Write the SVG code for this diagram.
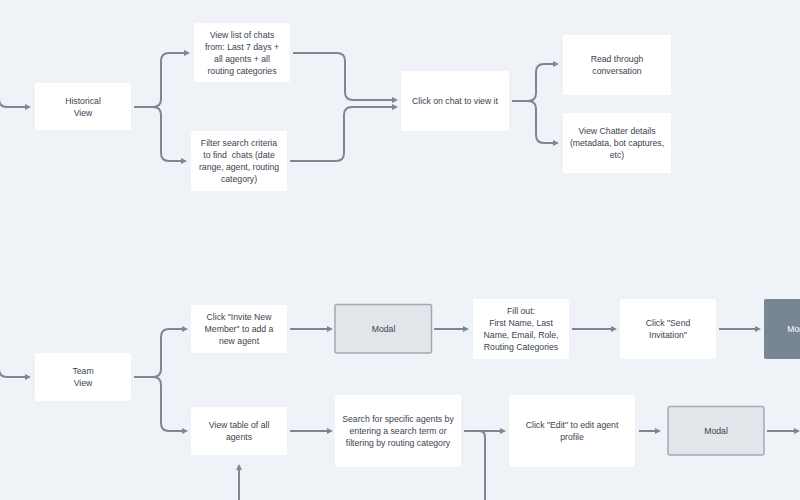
<svg xmlns="http://www.w3.org/2000/svg" width="800" height="500" viewBox="0 0 800 500">
<style>
.bg{fill:#eff2f6}
.box{fill:#ffffff}
.modal{fill:#e2e5e9;stroke:#a2abb5;stroke-width:1.5}
.dark{fill:#788592}
.t{font-family:"Liberation Sans",Arial,sans-serif;font-size:8.7px;fill:#3b4450;text-anchor:middle;white-space:pre}
.tw{fill:#ffffff}
.c{fill:none;stroke:#7b8795;stroke-width:2;marker-end:url(#ah)}
.cn{fill:none;stroke:#7b8795;stroke-width:2}
</style>
<defs>
<marker id="ah" markerUnits="userSpaceOnUse" markerWidth="6" markerHeight="6" viewBox="0 0 6 6" refX="3" refY="3" orient="auto">
<path d="M0,0 L6,3 L0,6 z" fill="#7b8795"/>
</marker>
</defs>
<rect class="bg" x="0" y="0" width="800" height="500"/>

<g id="connectors">
<path class="c" d="M-1,99 Q-1,107 7,107 H28"/>
<path class="c" d="M134,107 H153 Q161,107 161,99 V61 Q161,53 169,53 H187"/>
<path class="c" d="M153,107 Q161,107 161,115 V153 Q161,161 169,161 H184"/>
<path class="c" d="M293,53 H337 Q345,53 345,61 V92 Q345,100 353,100 H395"/>
<path class="c" d="M290,161 H336 Q344,161 344,153 V115 Q344,107 352,107 H395"/>
<path class="c" d="M512,101 H528 Q536,101 536,93 V72 Q536,64 544,64 H556"/>
<path class="c" d="M528,101 Q536,101 536,109 V135 Q536,143 544,143 H556"/>
<path class="c" d="M-1,369 Q-1,377 7,377 H28"/>
<path class="c" d="M134,377 H153 Q161,377 161,369 V337 Q161,329 169,329 H185"/>
<path class="c" d="M153,377 Q161,377 161,385 V423 Q161,431 169,431 H185"/>
<path class="c" d="M290,329 H330"/>
<path class="c" d="M434,329 H466"/>
<path class="c" d="M572,329 H614"/>
<path class="c" d="M719,329 H758"/>
<path class="c" d="M290,431 H330"/>
<path class="c" d="M464,431 H503"/>
<path class="cn" d="M485,500 V437 Q485,431 479,431"/>
<path class="c" d="M639,431 H658"/>
<path class="c" d="M767,431 H797"/>
<path class="c" d="M239,500 V467"/>
</g>

<g id="historical-view">
<rect class="box" x="35" y="83" width="96" height="47" rx="2"/>
<text class="t" x="83" y="104">Historical</text>
<text class="t" x="83" y="116">View</text>
</g>
<g id="view-list">
<rect class="box" x="194" y="23" width="96" height="59" rx="2"/>
<text class="t" x="242" y="38">View list of chats</text>
<text class="t" x="242" y="50">from: Last 7 days +</text>
<text class="t" x="242" y="62">all agents + all</text>
<text class="t" x="242" y="74">routing categories</text>
</g>
<g id="filter-search">
<rect class="box" x="191" y="131" width="96" height="60" rx="2"/>
<text class="t" x="239" y="146">Filter search criteria</text>
<text class="t" x="239" y="158">to find  chats (date</text>
<text class="t" x="239" y="170">range, agent, routing</text>
<text class="t" x="239" y="182">category)</text>
</g>
<g id="click-chat">
<rect class="box" x="401" y="71" width="108" height="60" rx="2"/>
<text class="t" x="455" y="104">Click on chat to view it</text>
</g>
<g id="read-through">
<rect class="box" x="563" y="35" width="108" height="60" rx="2"/>
<text class="t" x="617" y="62">Read through</text>
<text class="t" x="617" y="74">conversation</text>
</g>
<g id="chatter-details">
<rect class="box" x="563" y="113" width="108" height="60" rx="2"/>
<text class="t" x="617" y="134">View Chatter details</text>
<text class="t" x="617" y="146">(metadata, bot captures,</text>
<text class="t" x="617" y="158">etc)</text>
</g>

<g id="team-view">
<rect class="box" x="35" y="353" width="96" height="48" rx="2"/>
<text class="t" x="83" y="374">Team</text>
<text class="t" x="83" y="386">View</text>
</g>
<g id="invite-member">
<rect class="box" x="191" y="305" width="96" height="48" rx="2"/>
<text class="t" x="239" y="320">Click "Invite New</text>
<text class="t" x="239" y="332">Member" to add a</text>
<text class="t" x="239" y="344">new agent</text>
</g>
<g id="modal-invite">
<rect class="modal" x="335" y="304.5" width="96.5" height="48.5" rx="2"/>
<text class="t" x="383.5" y="332">Modal</text>
</g>
<g id="fill-out">
<rect class="box" x="473" y="299" width="96" height="60" rx="2"/>
<text class="t" x="521" y="314">Fill out:</text>
<text class="t" x="521" y="326">First Name, Last</text>
<text class="t" x="521" y="338">Name, Email, Role,</text>
<text class="t" x="521" y="350">Routing Categories</text>
</g>
<g id="send-invitation">
<rect class="box" x="620" y="299" width="96" height="60" rx="2"/>
<text class="t" x="668" y="326">Click "Send</text>
<text class="t" x="668" y="338">Invitation"</text>
</g>
<g id="modal-dark">
<rect class="dark" x="764" y="299" width="70" height="60" rx="2"/>
<text class="t tw" x="799" y="332">Modal</text>
</g>
<g id="view-table">
<rect class="box" x="191" y="407" width="96" height="48" rx="2"/>
<text class="t" x="239" y="428">View table of all</text>
<text class="t" x="239" y="440">agents</text>
</g>
<g id="search-agents">
<rect class="box" x="335" y="395" width="126" height="72" rx="2"/>
<text class="t" x="398" y="422">Search for specific agents by</text>
<text class="t" x="398" y="434">entering a search term or</text>
<text class="t" x="398" y="446">filtering by routing category</text>
</g>
<g id="edit-agent">
<rect class="box" x="509" y="395" width="126" height="72" rx="2"/>
<text class="t" x="572" y="428">Click "Edit" to edit agent</text>
<text class="t" x="572" y="440">profile</text>
</g>
<g id="modal-edit">
<rect class="modal" x="668" y="406.5" width="96" height="48.5" rx="2"/>
<text class="t" x="716" y="434">Modal</text>
</g>
</svg>
